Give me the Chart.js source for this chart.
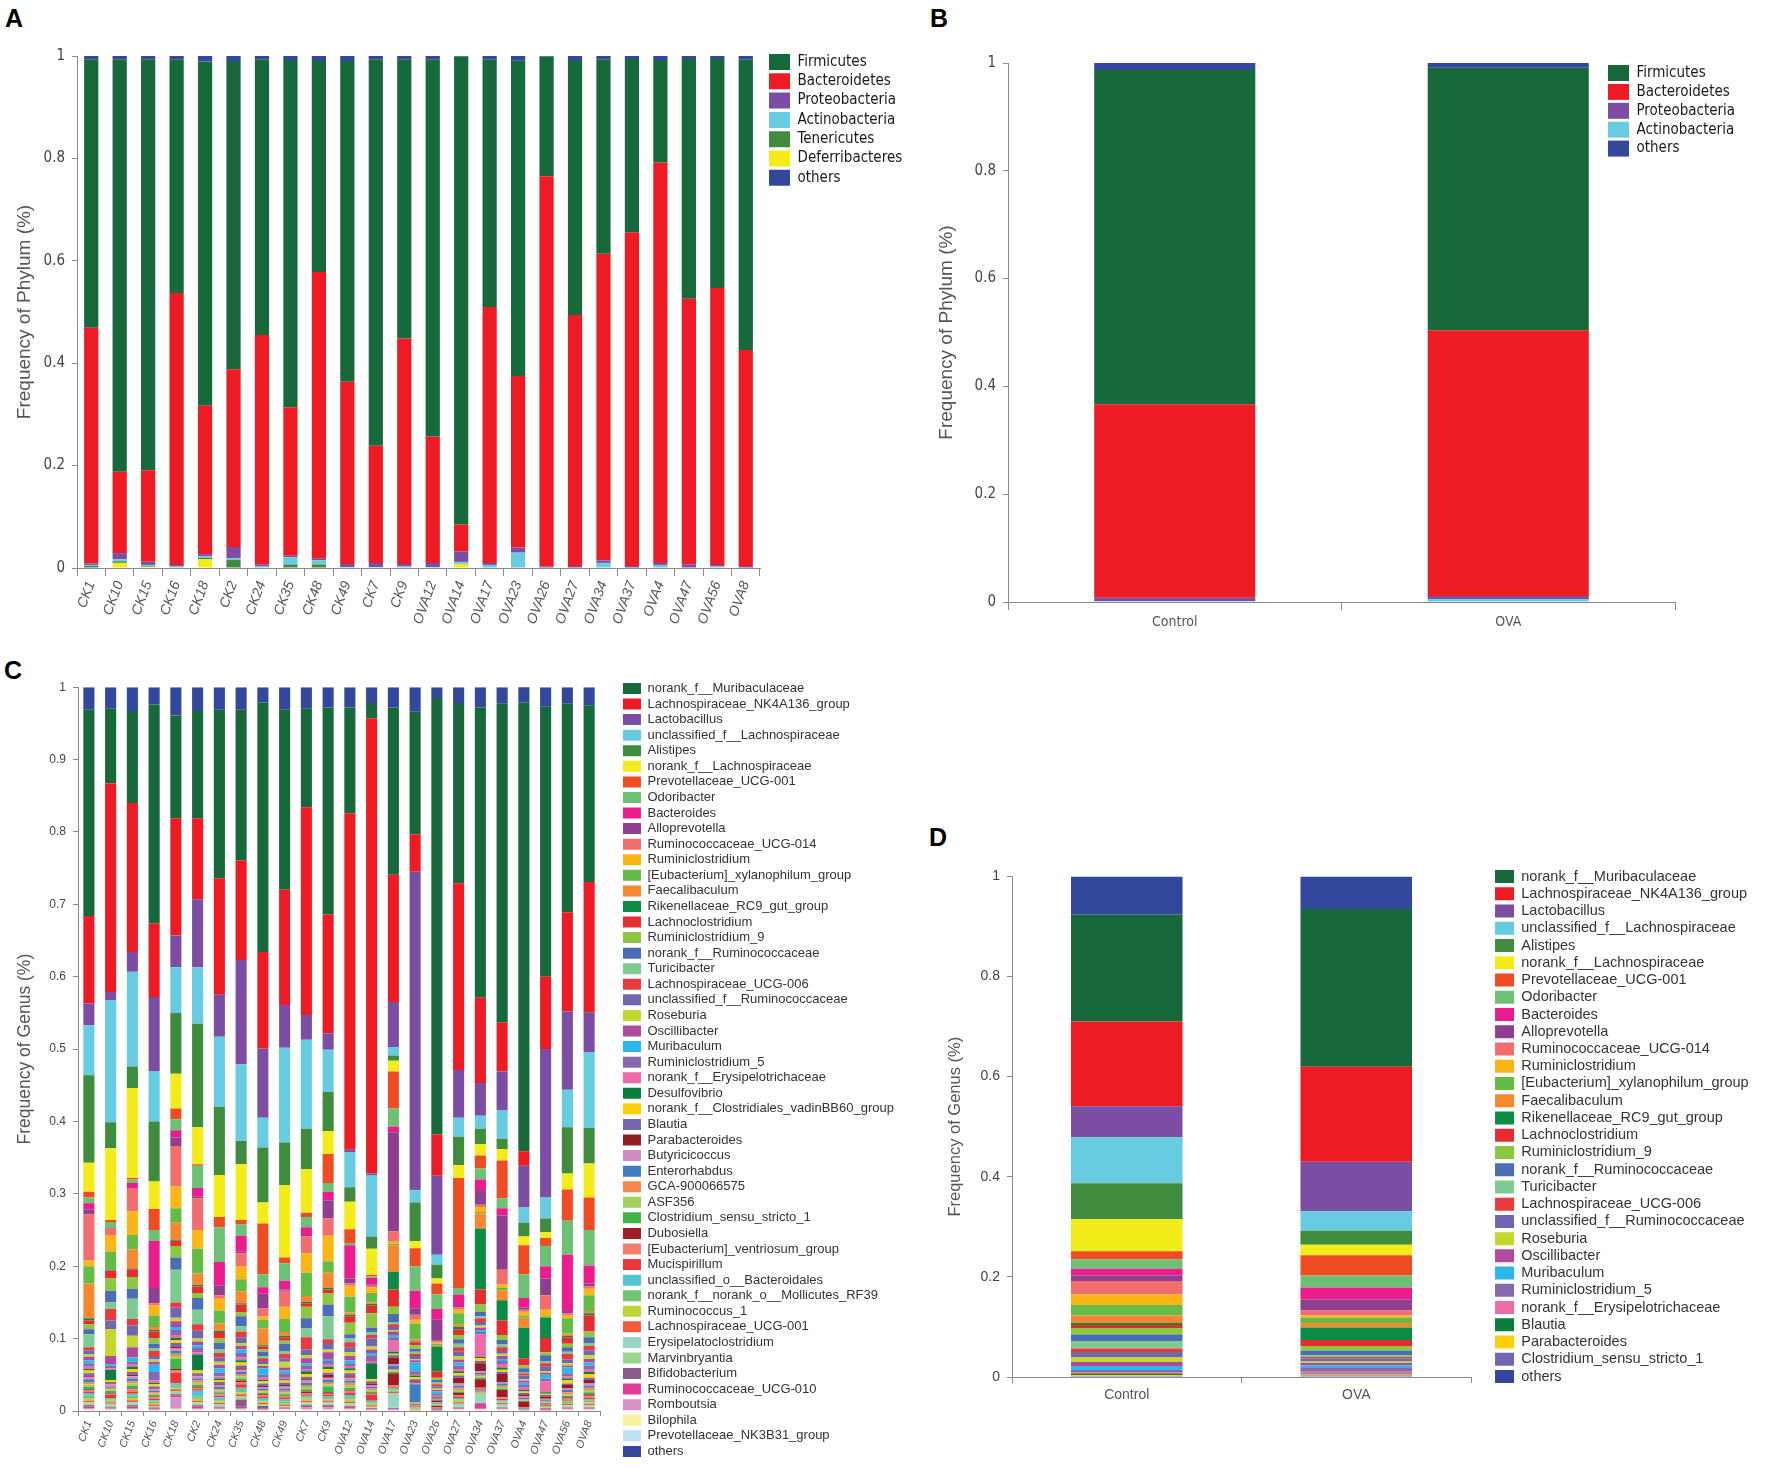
<!DOCTYPE html>
<html>
<head>
<meta charset="utf-8">
<script src="https://cdn.jsdelivr.net/npm/chart.js@4.4.1/dist/chart.umd.min.js"></script>
<style>
  html, body { margin: 0; padding: 0; background: #fff; }
  body { width: 1778px; height: 1468px; position: relative; overflow: hidden; }
  canvas { position: absolute; }
  .tag { position: absolute; font: bold 25px "Liberation Sans", Arial, sans-serif; line-height: 25px; color: #000; }
</style>
</head>
<body>
<div class="tag" style="left:5px;top:6px">A</div>
<div class="tag" style="left:930px;top:6px">B</div>
<div class="tag" style="left:4px;top:658px">C</div>
<div class="tag" style="left:929px;top:825px">D</div>

<canvas id="chartA" width="930" height="598" style="left:0;top:40px;width:930px;height:598px"></canvas>
<canvas id="chartB" width="848" height="595" style="left:930px;top:47px;width:848px;height:595px"></canvas>
<canvas id="chartC" width="930" height="795" style="left:0;top:673px;width:930px;height:795px"></canvas>
<canvas id="chartD" width="848" height="556" style="left:930px;top:861px;width:848px;height:556px"></canvas>

<script>
// all shares are per mille of reads
const samples = [
    "CK1", "CK10", "CK15", "CK16", "CK18", "CK2", "CK24", "CK35", "CK48",
    "CK49", "CK7", "CK9", "OVA12", "OVA14", "OVA17", "OVA23", "OVA26",
    "OVA27", "OVA34", "OVA37", "OVA4", "OVA47", "OVA56", "OVA8",
];
const groups = ["Control", "OVA"];

// ---- A: phylum per sample
const phylumNames = [
    "Firmicutes", "Bacteroidetes", "Proteobacteria", "Actinobacteria",
    "Tenericutes", "Deferribacteres", "others",
];
const phylumColors = [
    "#17683a", "#ed1c24", "#7b4ea3", "#67cbe1", "#3f8c3f", "#f3ec19", "#33489d",
];
const firmicutes = [524, 805, 802, 456, 672, 602, 538, 678, 412, 626, 754, 545, 736, 914, 483, 616, 234, 498, 379, 338, 200, 468, 447, 567];
const bacteroidetes = [460, 159, 179, 531, 290, 347, 448, 290, 560, 356, 229, 440, 247, 53, 500, 335, 762, 490, 599, 652, 782, 519, 541, 422];
const proteobacteria = [3, 12, 6, 3, 4, 22, 4, 3, 3, 6, 8, 5, 8, 20, 4, 10, 2, 3, 5, 3, 4, 6, 3, 3];
const actinobacteria = [2, 4, 3, 2, 3, 3, 2, 14, 8, 2, 2, 3, 2, 4, 6, 30, 1, 1, 10, 1, 6, 1, 3, 1];
const tenericutes = [4, 3, 1, 1, 3, 15, 1, 6, 7, 0, 0, 0, 0, 0, 0, 0, 0, 0, 0, 0, 0, 0, 0, 0];
const deferribacteres = [0, 10, 2, 0, 17, 1, 0, 1, 0, 0, 0, 0, 0, 8, 0, 0, 0, 0, 0, 0, 0, 0, 0, 0];
const phylumOthers = [7, 7, 7, 7, 11, 10, 7, 8, 10, 10, 7, 7, 7, 1, 7, 9, 1, 8, 7, 6, 8, 6, 6, 7];

// ---- B: phylum per group
const groupPhylumNames = ["Firmicutes", "Bacteroidetes", "Proteobacteria", "Actinobacteria", "others"];
const groupPhylumColors = ["#17683a", "#ed1c24", "#7b4ea3", "#67cbe1", "#33489d"];
const firmicutesB = [620, 487];
const bacteroidetesB = [359, 493];
const proteobacteriaB = [6, 6];
const actinobacteriaB = [2, 5];
const othersB = [13, 9];

// ---- C: genus per sample (one row per sample, genera in legend order)
const genusNames = [
    "norank_f__Muribaculaceae", "Lachnospiraceae_NK4A136_group", "Lactobacillus",
    "unclassified_f__Lachnospiraceae", "Alistipes", "norank_f__Lachnospiraceae",
    "Prevotellaceae_UCG-001", "Odoribacter", "Bacteroides", "Alloprevotella",
    "Ruminococcaceae_UCG-014", "Ruminiclostridium", "[Eubacterium]_xylanophilum_group",
    "Faecalibaculum", "Rikenellaceae_RC9_gut_group", "Lachnoclostridium",
    "Ruminiclostridium_9", "norank_f__Ruminococcaceae", "Turicibacter",
    "Lachnospiraceae_UCG-006", "unclassified_f__Ruminococcaceae", "Roseburia",
    "Oscillibacter", "Muribaculum", "Ruminiclostridium_5", "norank_f__Erysipelotrichaceae",
    "Desulfovibrio", "norank_f__Clostridiales_vadinBB60_group", "Blautia",
    "Parabacteroides", "Butyricicoccus", "Enterorhabdus", "GCA-900066575", "ASF356",
    "Clostridium_sensu_stricto_1", "Dubosiella", "[Eubacterium]_ventriosum_group",
    "Mucispirillum", "unclassified_o__Bacteroidales", "norank_f__norank_o__Mollicutes_RF39",
    "Ruminococcus_1", "Lachnospiraceae_UCG-001", "Erysipelatoclostridium",
    "Marvinbryantia", "Bifidobacterium", "Ruminococcaceae_UCG-010", "Romboutsia",
    "Bilophila", "Prevotellaceae_NK3B31_group", "others",
];
const genusColors = [
    "#17683a", "#ed1c24", "#7b4ea3", "#67cbe1", "#3f8c3f", "#f3ec19", "#f04c23",
    "#6dc174", "#ec1c8d", "#8e3f8d", "#f26d6d", "#fbb515", "#64bc46", "#f6892f",
    "#0b8b46", "#e52d2f", "#8dc63f", "#4b6db6", "#7ecb92", "#e93a3e", "#7167b1",
    "#c4d72f", "#b04a9e", "#2cb7ea", "#8868b0", "#ee6ba9", "#0b7d3e", "#fdd107",
    "#7466b4", "#921d22", "#d08cc4", "#3f7ec6", "#f7894d", "#a6cf5c", "#3fb54a",
    "#a11c23", "#f47c6b", "#ec3639", "#52c4d5", "#71c470", "#bdd530", "#f15a3c",
    "#97d6c2", "#9bd58b", "#8b5a88", "#e23c99", "#d991c5", "#f8f29c", "#bde3f3",
    "#33489d",
];
const cCK1 = [285,121,30,69,121,40,8,8,9,6,64,8,24,48, 3,5,7,7,18,4,6,3,5,4,5,3,2,4,4,1,3,4,3,3,4,1,2,2,4,4,3,2,2,2,2,2,2,1,1, 31];
const cCK10 = [104,288,11,169,36,99,3,8,0,0,10,23,25,0, 1,11,17,16,9,16,12,37,11,2,4,2,14,3,2,1,3,2,2,2,3,1,2,4,2,2,2,2,2,2,1,1,2,1,1, 29];
const cCK15 = [127,206,27,131,30,124,2,5,7,0,32,33,20,26, 1,11,16,14,28,9,14,16,14,6,4,3,3,4,4,2,3,4,3,3,4,1,3,3,3,3,3,3,2,2,2,2,2,1,1, 33];
const cCK16 = [302,102,103,69,83,38,29,15,65,21,3,14,16,4, 2,9,8,6,4,7,5,3,4,10,12,3,2,3,3,1,2,2,2,2,2,1,2,2,2,2,2,2,1,1,2,1,1,1,0, 24];
const cCK18 = [142,162,44,63,84,48,15,15,10,12,56,30,20,24, 1,7,16,17,45,7,14,5,8,4,7,4,3,4,5,2,4,4,3,4,14,2,3,15,3,3,2,3,2,2,2,2,16,2,1, 39];
const cCK2 = [148,112,94,78,143,51,2,31,12,2,44,26,34,16, 2,9,7,16,20,9,11,4,5,4,6,3,22,4,3,1,3,3,3,3,3,1,2,2,8,3,3,2,2,2,2,2,2,1,1, 33];
const cCK24 = [233,161,58,97,94,58,14,48,33,13,5,16,18,10, 2,9,6,9,5,6,6,4,5,6,5,3,2,3,3,1,3,3,2,2,2,1,2,2,4,2,2,2,2,1,1,1,2,1,1, 31];
const cCK35 = [208,138,144,106,32,77,6,16,22,2,18,18,17,16, 2,11,5,14,7,8,8,4,5,5,6,4,3,4,4,2,3,3,3,3,3,2,3,5,3,3,3,3,2,2,10,2,2,1,1, 31];
const cCK48 = [345,133,96,41,76,29,70,18,9,20,11,5,12,23, 2,4,3,6,3,4,4,3,3,9,4,3,2,3,3,2,2,2,2,2,2,1,2,2,3,2,2,2,1,1,4,1,1,1,0, 21];
const cCK49 = [249,159,59,131,59,100,8,24,12,2,22,17,18,5, 2,5,4,10,4,6,5,8,4,4,5,3,2,3,3,2,3,3,2,3,2,1,2,2,3,2,2,2,1,1,1,1,1,1,1, 31];
const cCK7 = [137,287,34,123,56,60,6,14,11,2,23,27,32,8, 2,5,16,14,12,17,8,4,7,3,5,3,4,4,3,2,3,3,3,3,3,2,2,2,2,2,3,2,2,2,1,2,3,1,1, 29];
const cCK9 = [286,164,23,58,54,32,40,12,12,25,24,35,16,21, 2,5,16,16,32,5,9,4,9,3,5,3,3,5,3,4,3,3,3,3,8,2,2,2,2,2,2,2,2,2,1,2,3,1,1, 28];
const cOVA12 = [146,465,3,49,20,38,19,3,46,7,3,15,22,3, 2,9,16,6,5,7,7,5,6,4,4,3,3,4,4,2,4,3,3,4,3,1,3,3,3,3,3,2,2,2,1,2,2,1,1, 28];
const cOVA14 = [21,629,2,85,17,36,2,2,9,2,2,8,13,2, 2,11,20,6,4,5,11,4,5,3,8,3,22,3,3,2,3,2,2,2,2,1,2,8,2,2,2,2,1,1,1,1,1,1,0, 22];
const cOVA17 = [231,176,62,12,7,15,51,25,8,137,14,3,2,37, 24,24,10,11,3,4,4,2,5,3,5,15,3,2,3,9,2,5,2,2,2,16,2,2,2,2,1,2,20,1,1,1,1,0,1, 28];
const cOVA23 = [169,52,440,17,53,10,25,34,24,9,7,5,22,3, 1,4,5,4,3,3,4,2,3,12,4,2,2,3,3,2,2,25,1,1,1,1,1,1,1,1,1,1,1,0,0,1,0,0,0, 34];
const cOVA26 = [603,57,109,14,19,7,15,20,15,29,2,2,2,2, 34,9,3,3,3,3,3,2,2,3,2,3,2,1,2,2,1,1,1,1,1,2,1,1,0,1,0,0,0,0,2,0,0,0,0, 15];
const cOVA27 = [249,258,66,26,39,18,152,9,16,2,3,5,16,3, 3,8,6,6,5,6,6,5,4,4,5,3,3,3,3,8,3,3,3,2,2,3,2,2,2,2,2,2,4,1,1,1,1,1,1, 22];
const cOVA34 = [401,118,45,18,21,16,18,15,16,19,3,7,2,21, 84,20,11,6,3,5,5,3,3,3,3,31,2,4,3,11,2,3,2,2,2,12,2,2,2,1,1,1,11,1,1,7,1,1,1, 28];
const cOVA37 = [440,68,53,40,14,16,52,14,10,75,20,5,3,14, 28,20,7,6,4,5,4,3,4,3,4,5,3,3,3,11,2,3,2,2,2,10,2,2,2,1,1,2,3,1,1,1,1,1,1, 23];
const cOVA4 = [620,20,58,21,19,12,40,33,13,3,3,5,3,14, 42,10,4,5,2,3,5,2,3,3,4,3,2,2,3,2,2,2,1,1,1,8,1,1,1,1,0,1,0,0,0,0,0,0,0, 22];
const cOVA47 = [373,100,205,29,19,8,11,28,17,23,20,9,2,0, 28,20,4,8,3,5,6,2,3,5,4,15,2,2,2,3,2,2,1,1,1,1,1,1,1,1,1,1,0,0,1,1,1,0,0, 27];
const cOVA56 = [288,137,108,52,64,22,43,47,78,3,3,4,21,3, 2,9,5,6,3,8,5,3,3,8,4,3,2,5,2,5,2,3,3,2,2,1,2,2,1,2,1,2,2,1,1,1,1,1,1, 23];
const cOVA8 = [244,180,55,105,49,47,45,49,25,4,3,9,22,3, 3,22,8,8,4,6,7,5,5,4,6,3,3,5,3,5,3,3,3,3,3,2,3,2,2,2,2,2,2,1,1,1,1,1,1, 25];
const genusRowsC = [
    cCK1, cCK10, cCK15, cCK16, cCK18, cCK2, cCK24, cCK35, cCK48, cCK49, cCK7, cCK9,
    cOVA12, cOVA14, cOVA17, cOVA23, cOVA26, cOVA27, cOVA34, cOVA37, cOVA4, cOVA47, cOVA56, cOVA8,
];

// ---- D: genus per group
const groupGenusNames = genusNames.slice(0, 26).concat([
    "Blautia", "Parabacteroides", "Clostridium_sensu_stricto_1", "others",
]);
const groupGenusColors = genusColors.slice(0, 26).concat(["#0b7d3e", "#fdd107", "#7466b4", "#33489d"]);
const dControl = [214,169,62,92,72,64,16,19,13,11,27,21,21,15, 4,6,13,13,15,7,10,10,8,8,4,3,3,2,2, 76];
const dOVA = [315,190,99,39,28,21,40,24,24,22,10,4,11,9, 25,12,9,9,4,3,6,3,5,5,6,5,2,2,3, 65];

const narrow = '"Liberation Sans Narrow", "Arial Narrow", "DejaVu Sans Condensed", sans-serif';
const plain = '"Liberation Sans", Arial, sans-serif';
const axisGrey = "#8a8a8a";

// stack bottom-up in reverse legend order, "others" stays on top
function stackSets(names, colors, rows) {
    const last = names.length - 1;
    const order = [];
    for (let i = last - 1; i >= 0; i--) order.push(i);
    order.push(last);
    return order.map((k) => ({
        label: names[k],
        data: rows.map((row) => row[k] / 1000),
        backgroundColor: colors[k],
        borderWidth: 0,
        legendRank: k,
    }));
}

// fixed legend slot: reserve a width at the right, then place the box
const legendSlot = {
    id: "legendSlot",
    beforeLayout(chart, args, opts) {
        const lg = chart.legend;
        if (!lg || lg._slotted) return;
        const fit = lg.fit;
        lg.fit = function () {
            fit.call(this);
            this.width = opts.reserve;
        };
        lg._slotted = true;
    },
    afterLayout(chart, args, opts) {
        const lg = chart.legend;
        lg.left = opts.x;
        lg.right = opts.x + opts.w;
        lg.width = opts.w;
        lg.top = opts.y;
        lg.bottom = opts.y + 2000;
        lg.height = 2000;
    },
};

function stackedChart(id, c) {
    return new Chart(document.getElementById(id), {
        type: "bar",
        data: { labels: c.labels, datasets: c.datasets },
        options: {
            responsive: false,
            animation: false,
            events: [],
            layout: { padding: { top: 12, left: 0, right: 0, bottom: 0 } },
            datasets: { bar: { barPercentage: c.bar, categoryPercentage: 1 } },
            scales: {
                x: {
                    stacked: true,
                    offset: true,
                    grid: { drawOnChartArea: false, tickLength: c.xTick, color: axisGrey, offset: true },
                    border: { color: axisGrey },
                    ticks: {
                        autoSkip: false,
                        maxRotation: c.rot,
                        minRotation: c.rot,
                        padding: c.xPad,
                        font: c.xFont,
                        color: "#555",
                    },
                    afterFit: (s) => { s.height = c.xHeight; },
                },
                y: {
                    stacked: true,
                    min: 0,
                    max: 1,
                    grid: { drawOnChartArea: false, tickLength: 5, color: axisGrey },
                    border: { color: axisGrey },
                    ticks: {
                        stepSize: c.step,
                        padding: 7,
                        font: c.yFont,
                        color: "#444",
                        callback: (v) => String(Number(v.toFixed(2))),
                    },
                    title: {
                        display: true,
                        text: c.title,
                        font: c.titleFont,
                        color: "#555",
                        padding: { top: c.titlePad, bottom: 0 },
                    },
                    afterFit: (s) => { s.width = c.yWidth; },
                },
            },
            plugins: {
                legend: {
                    position: "right",
                    align: "start",
                    labels: {
                        boxWidth: c.box[0],
                        boxHeight: c.box[1],
                        padding: c.gap,
                        font: c.legendFont,
                        color: c.legendColor,
                        sort: (a, b, data) =>
                            data.datasets[a.datasetIndex].legendRank -
                            data.datasets[b.datasetIndex].legendRank,
                    },
                },
                tooltip: { enabled: false },
                legendSlot: c.slot,
            },
        },
        plugins: [legendSlot],
    });
}

document.addEventListener("DOMContentLoaded", function () {
    const phylumRows = samples.map((s, i) =>
        [firmicutes, bacteroidetes, proteobacteria, actinobacteria, tenericutes, deferribacteres, phylumOthers]
            .map((arr) => arr[i])
    );
    stackedChart("chartA", {
        labels: samples,
        datasets: stackSets(phylumNames, phylumColors, phylumRows),
        bar: 0.5,
        xTick: 8, rot: 70, xPad: 3, xHeight: 70,
        xFont: { family: plain, size: 14, style: "italic" },
        step: 0.2, yFont: { family: narrow, size: 15 },
        title: "Frequency of Phylum (%)", titleFont: { family: plain, size: 19 }, titlePad: 13.6, yWidth: 77,
        box: [21, 16], gap: 3.3, legendFont: { family: narrow, size: 15 }, legendColor: "#1a1a1a",
        slot: { reserve: 170, x: 765.7, y: 10.7, w: 164 },
    });

    const groupPhylumRows = groups.map((g, i) =>
        [firmicutesB, bacteroidetesB, proteobacteriaB, actinobacteriaB, othersB].map((arr) => arr[i])
    );
    stackedChart("chartB", {
        labels: groups,
        datasets: stackSets(groupPhylumNames, groupPhylumColors, groupPhylumRows),
        bar: 0.483,
        xTick: 8, rot: 0, xPad: 4, xHeight: 40,
        xFont: { family: narrow, size: 14 },
        step: 0.2, yFont: { family: narrow, size: 15 },
        title: "Frequency of Phylum (%)", titleFont: { family: plain, size: 19 }, titlePad: 5.6, yWidth: 78,
        box: [21, 16], gap: 2.9, legendFont: { family: narrow, size: 15 }, legendColor: "#1a1a1a",
        slot: { reserve: 103, x: 675.1, y: 15.1, w: 173 },
    });

    stackedChart("chartC", {
        labels: samples,
        datasets: stackSets(genusNames, genusColors, genusRowsC),
        bar: 0.51,
        xTick: 5, rot: 70, xPad: 3, xHeight: 57,
        xFont: { family: plain, size: 11, style: "italic" },
        step: 0.1, yFont: { family: plain, size: 12 },
        title: "Frequency of Genus (%)", titleFont: { family: plain, size: 17.5 }, titlePad: 14.5, yWidth: 78,
        box: [18, 11], gap: 2.57, legendFont: { family: plain, size: 13 }, legendColor: "#333",
        slot: { reserve: 330, x: 620.4, y: 6.4, w: 309 },
    });

    stackedChart("chartD", {
        labels: groups,
        datasets: stackSets(groupGenusNames, groupGenusColors, [dControl, dOVA]),
        bar: 0.486,
        xTick: 6, rot: 0, xPad: 4, xHeight: 40,
        xFont: { family: plain, size: 14 },
        step: 0.2, yFont: { family: plain, size: 14 },
        title: "Frequency of Genus (%)", titleFont: { family: plain, size: 16.5 }, titlePad: 16, yWidth: 82,
        box: [19, 13], gap: 2.74, legendFont: { family: plain, size: 14.5 }, legendColor: "#333",
        slot: { reserve: 307, x: 562.3, y: 5.6, w: 285 },
    });
});
</script>
</body>
</html>
